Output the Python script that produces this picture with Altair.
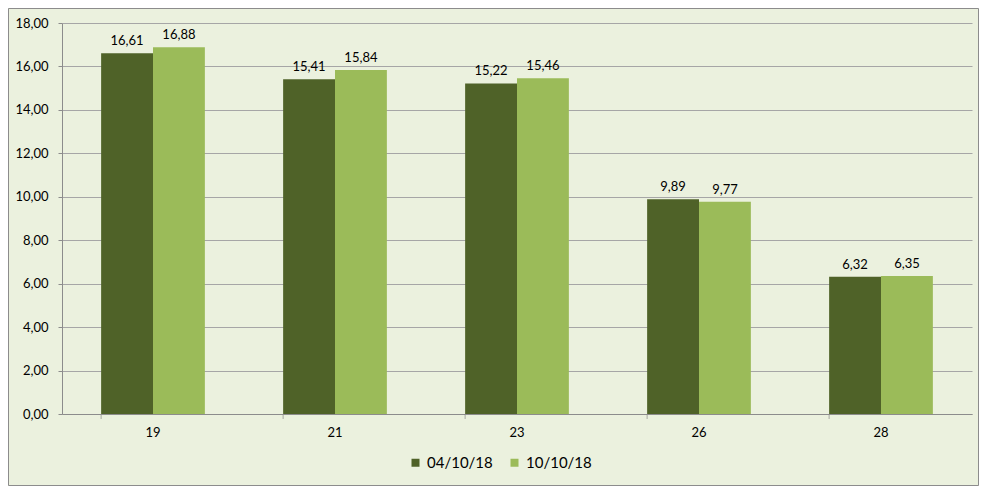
import altair as alt
import pandas as pd

categories = ["19", "21", "23", "26", "28"]
series_names = ["04/10/18", "10/10/18"]
values_0410 = [16.61, 15.41, 15.22, 9.89, 6.32]
values_1010 = [16.88, 15.84, 15.46, 9.77, 6.35]
colors = ["#4F6228", "#9BBB59"]

rows = []
for c, a, b in zip(categories, values_0410, values_1010):
    rows.append({"cat": c, "serie": series_names[0], "valor": a})
    rows.append({"cat": c, "serie": series_names[1], "valor": b})
df = pd.DataFrame(rows)
df["rotulo"] = df["valor"].map(lambda v: f"{v:.2f}".replace(".", ","))

FONT = "Lato"
W, H = 910, 391
PL, PT, PR, PB = 54, 15, 7, 72

xscale = alt.Scale(domain=categories, paddingInner=0.43, paddingOuter=0.215)
yscale = alt.Scale(domain=[0, 18])

base = alt.Chart(df)

bars = base.mark_bar().encode(
    x=alt.X("cat:N", scale=xscale, sort=categories, title=None,
            axis=alt.Axis(labelAngle=0, labelFont=FONT, labelFontSize=13, labelColor="#000000",
                          domainColor="#8C8C8C", ticks=False, labelPadding=12)),
    xOffset=alt.XOffset("serie:N", sort=series_names),
    y=alt.Y("valor:Q", scale=yscale, title=None,
            axis=alt.Axis(values=list(range(0, 19, 2)),
                          labelExpr="replace(format(datum.value, '.2f'), '.', ',')",
                          labelFont=FONT, labelFontSize=13, labelColor="#000000",
                          gridColor="#A6A6A6", domainColor="#8C8C8C", tickColor="#8C8C8C",
                          tickSize=4, labelPadding=10)),
    color=alt.Color("serie:N", sort=series_names,
                    scale=alt.Scale(domain=series_names, range=colors),
                    legend=alt.Legend(title=None, orient="none", direction="horizontal",
                                      legendX=346, legendY=432, symbolType="square",
                                      symbolSize=64, symbolStrokeWidth=0,
                                      labelFont=FONT, labelFontSize=15, labelColor="#000000",
                                      columnPadding=14, labelOffset=4)),
)

labels = base.mark_text(dy=-5, font=FONT, fontSize=13, color="#000000", baseline="bottom").encode(
    x=alt.X("cat:N", scale=xscale, sort=categories),
    xOffset=alt.XOffset("serie:N", sort=series_names),
    y=alt.Y("valor:Q", scale=yscale),
    text="rotulo:N",
)

xticks = alt.Chart(pd.DataFrame({"cat": categories})).mark_tick(
    color="#8C8C8C", orient="vertical", thickness=1, size=5
).encode(
    x=alt.X("cat:N", scale=xscale, sort=categories, bandPosition=0),
    y=alt.value(H + 2.5),
)

frame = alt.Chart(pd.DataFrame({"a": [0]})).mark_rect(
    fill=None, stroke="#8C8C8C", strokeWidth=1
).encode(
    x=alt.value(-PL + 0.5), x2=alt.value(W + PR - 0.5),
    y=alt.value(-PT + 0.5), y2=alt.value(H + PB - 0.5),
)

chart = alt.layer(bars, labels, xticks, frame).properties(
    width=W, height=H,
    background="#EBF1DE",
    padding={"left": PL, "top": PT, "right": PR, "bottom": PB},
    autosize=alt.AutoSizeParams(type="none"),
).configure_view(stroke=None)

chart.save("out.html", embed_options={"renderer": "svg", "actions": False})
